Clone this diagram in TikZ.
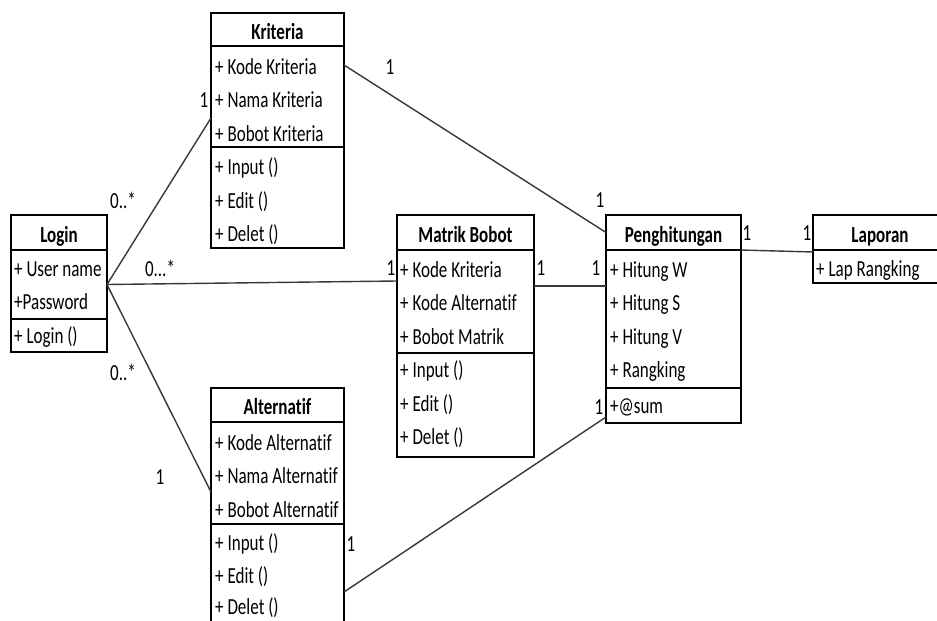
\documentclass[tikz,border=0pt]{standalone}
\usepackage{fontspec}
\setmainfont{Carlito}[FakeStretch=0.74,Ligatures=NoCommon]
\usetikzlibrary{calc}
\begin{document}
\begin{tikzpicture}[x=1pt,y=-1pt,
  box/.style={draw=black,line width=2.6pt,inner sep=0pt,outer sep=0pt,anchor=north west},
  title/.style={anchor=base,inner sep=0pt,font=\fontsize{23}{26}\selectfont\bfseries},
  item/.style={anchor=base west,inner sep=0pt,font=\fontsize{23}{26}\selectfont},
  mult/.style={inner sep=0pt,font=\fontsize{23}{26}\selectfont},
  link/.style={draw=black!78,line width=1.4pt}]
\useasboundingbox (0,0) rectangle (937,621);
\fill[white] (0,0) rectangle (937,621);
\clip (0,0) rectangle (937,621);

% ---- Kriteria ----
\node[box,minimum width=133pt,minimum height=33pt]  (kri-head) at (211,13) {};
\node[box,minimum width=133pt,minimum height=101pt] (kri-attr) at (211,46) {};
\node[box,minimum width=133pt,minimum height=101pt] (kri-ops)  at (211,147) {};
\node[title] (kri-t)  at (277.5,39) {Kriteria};
\node[item]  (kri-a1) at (215,74) {+ Kode Kriteria};
\node[item]  (kri-a2) at (215,107.5) {+ Nama Kriteria};
\node[item]  (kri-a3) at (215,141) {+ Bobot Kriteria};
\node[item]  (kri-o1) at (215,174.5) {+ Input ()};
\node[item]  (kri-o2) at (215,208) {+ Edit ()};
\node[item]  (kri-o3) at (215,241.5) {+ Delet ()};

% ---- Login ----
\node[box,minimum width=96pt,minimum height=35pt] (log-head) at (11,215) {};
\node[box,minimum width=96pt,minimum height=69pt] (log-attr) at (11,250) {};
\node[box,minimum width=96pt,minimum height=33pt] (log-ops)  at (11,319) {};
\node[title] (log-t)  at (59,242) {Login};
\node[item]  (log-a1) at (14,276) {+ User name};
\node[item]  (log-a2) at (14,309.5) {+Password};
\node[item]  (log-o1) at (14,343) {+ Login ()};

% ---- Matrik Bobot ----
\node[box,minimum width=137pt,minimum height=35pt]  (mat-head) at (397,215) {};
\node[box,minimum width=137pt,minimum height=103pt] (mat-attr) at (397,250) {};
\node[box,minimum width=137pt,minimum height=104pt] (mat-ops)  at (397,353) {};
\node[title] (mat-t)  at (465.5,242) {Matrik Bobot};
\node[item]  (mat-a1) at (400,277) {+ Kode Kriteria};
\node[item]  (mat-a2) at (400,310.5) {+ Kode Alternatif};
\node[item]  (mat-a3) at (400,344) {+ Bobot Matrik};
\node[item]  (mat-o1) at (400,377.5) {+ Input ()};
\node[item]  (mat-o2) at (400,411) {+ Edit ()};
\node[item]  (mat-o3) at (400,444.5) {+ Delet ()};

% ---- Penghitungan ----
\node[box,minimum width=135pt,minimum height=35pt]  (pen-head) at (606,215) {};
\node[box,minimum width=135pt,minimum height=138pt] (pen-attr) at (606,250) {};
\node[box,minimum width=135pt,minimum height=35pt]  (pen-ops)  at (606,388) {};
\node[title] (pen-t)  at (673.5,242) {Penghitungan};
\node[item]  (pen-a1) at (610,277) {+ Hitung W};
\node[item]  (pen-a2) at (610,310.5) {+ Hitung S};
\node[item]  (pen-a3) at (610,344) {+ Hitung V};
\node[item]  (pen-a4) at (610,377.5) {+ Rangking};
\node[item]  (pen-o1) at (610,413) {+@sum};

% ---- Laporan ----
\node[box,minimum width=150pt,minimum height=35pt] (lap-head) at (813,215) {};
\node[box,minimum width=150pt,minimum height=33pt] (lap-attr) at (813,250) {};
\node[title] (lap-t)  at (880,242) {Laporan};
\node[item]  (lap-a1) at (816,276) {+ Lap Rangking};

% ---- Alternatif ----
\node[box,minimum width=133pt,minimum height=34pt]  (alt-head) at (211,388) {};
\node[box,minimum width=133pt,minimum height=102pt] (alt-attr) at (211,422) {};
\node[box,minimum width=133pt,minimum height=112pt] (alt-ops)  at (211,524) {};
\node[title] (alt-t)  at (277.5,414) {Alternatif};
\node[item]  (alt-a1) at (215,450) {+ Kode Alternatif};
\node[item]  (alt-a2) at (215,483.5) {+ Nama Alternatif};
\node[item]  (alt-a3) at (215,517) {+ Bobot Alternatif};
\node[item]  (alt-o1) at (215,550.5) {+ Input ()};
\node[item]  (alt-o2) at (215,583.5) {+ Edit ()};
\node[item]  (alt-o3) at (215,614) {+ Delet ()};

% ---- associations ----
\draw[link] (log-attr.east) -- ($(kri-attr.south west)+(0,-29)$);
\draw[link] (log-attr.east) -- ($(mat-attr.north west)+(0,31)$);
\draw[link] (log-attr.east) -- ($(alt-attr.north west)+(0,70)$);
\draw[link] ($(kri-attr.north east)+(0,19)$) -- (pen-head.west);
\draw[link] ($(mat-attr.north east)+(0,36)$) -- ($(pen-attr.north west)+(0,36)$);
\draw[link] (pen-head.south east) -- ($(lap-head.south west)+(0,2)$);
\draw[link] ($(alt-ops.north east)+(0,68)$) -- ($(pen-ops.south west)+(0,-6)$);

% ---- multiplicities ----
\node[mult] (m1)  at (390,67)  {1};
\node[mult] (m2)  at (600,200) {1};
\node[mult] (m3)  at (123,200) {0..*};
\node[mult] (m4)  at (204,100) {1};
\node[mult] (m5)  at (160,268) {0...*};
\node[mult] (m6)  at (391,268) {1};
\node[mult] (m7)  at (541,268) {1};
\node[mult] (m8)  at (596,268) {1};
\node[mult] (m9)  at (747,233) {1};
\node[mult] (m10) at (807,233) {1};
\node[mult] (m11) at (123,372) {0..*};
\node[mult] (m12) at (160,477) {1};
\node[mult] (m13) at (351,544) {1};
\node[mult] (m14) at (599,407) {1};
\end{tikzpicture}
\end{document}
